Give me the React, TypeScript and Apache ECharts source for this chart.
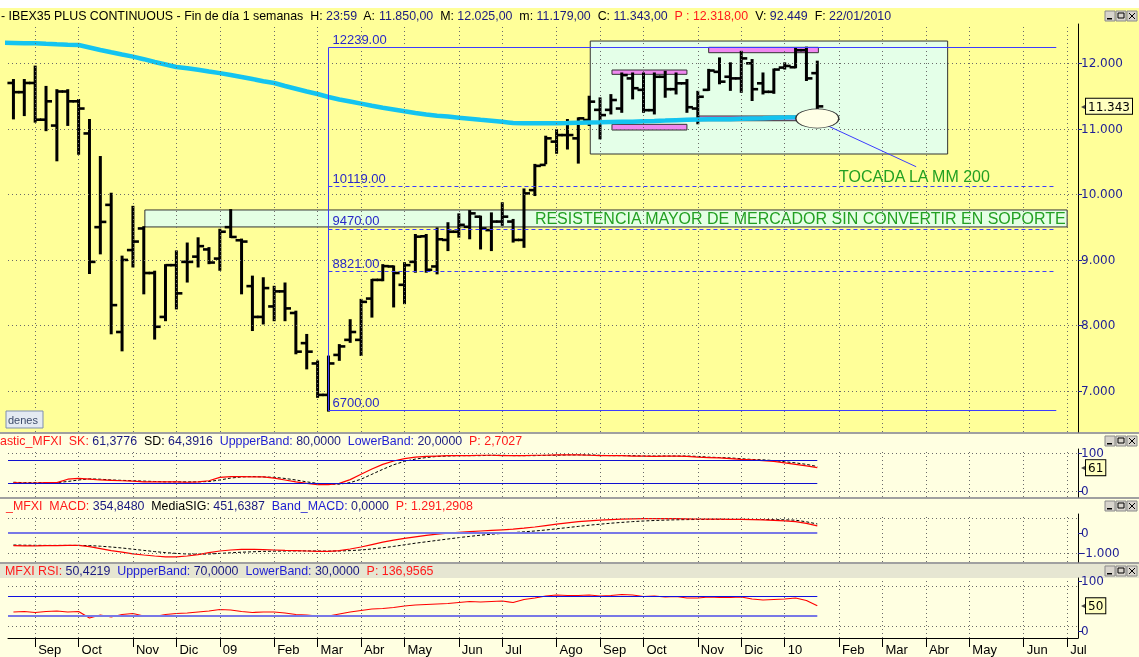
import React, { useEffect, useRef } from "react";
import * as echarts from "echarts";

// ---------------- DATA ----------------
// x axis = weekly bars, index 0 = week of 22/08/2008 ; index 74 = 22/01/2010
const monthTickIndex = [2, 6, 11, 15, 19, 24, 28, 32, 36, 41, 45, 50, 54, 58, 63, 67, 71, 76, 80, 84, 88, 93, 97];
const monthTickLabel = ["Sep", "Oct", "Nov", "Dic", "09", "Feb", "Mar", "Abr", "May", "Jun", "Jul", "Ago", "Sep", "Oct", "Nov", "Dic", "10", "Feb", "Mar", "Abr", "May", "Jun", "Jul"];

// weekly bars [open, high, low, close]
const ohlc: number[][] = [
  [11700, 11745, 11160, 11560], [11560, 11745, 11210, 11700], [11700, 11950, 11110, 11140], [11140, 11640, 10980, 11420],
  [11050, 11590, 10520, 11570], [11570, 11590, 11060, 11420], [11420, 11440, 10620, 11310], [10930, 11135, 8800, 8970],
  [9500, 10570, 9100, 9580], [9840, 10010, 7880, 8310], [7900, 9050, 7620, 9000], [9150, 9810, 8900, 9280],
  [9480, 9500, 8490, 8800], [8800, 8820, 7800, 7980], [8130, 8920, 8080, 8920], [8920, 9130, 8260, 8490],
  [8970, 9250, 8670, 8970], [9050, 9330, 8900, 9210], [9160, 9180, 8950, 8960], [9020, 9460, 8850, 9430],
  [9500, 9760, 9350, 9350], [9300, 9310, 8490, 9280], [8600, 8745, 7930, 8130], [8130, 8720, 8030, 8570],
  [8290, 8590, 8080, 8520], [8520, 8640, 8080, 8260], [8190, 8210, 7575, 7600], [7730, 7855, 7345, 7600],
  [7420, 7450, 6910, 6940], [6940, 7525, 6700, 7420], [7550, 7700, 7475, 7680], [7780, 8080, 7750, 7900],
  [7780, 8390, 7550, 8360], [8410, 8695, 8135, 8695], [8695, 8920, 8690, 8905], [8900, 8900, 8290, 8800],
  [8620, 8950, 8340, 8920], [8970, 9380, 8820, 9355], [9360, 9380, 8820, 8850], [8900, 9480, 8795, 9315],
  [9305, 9560, 9150, 9430], [9430, 9695, 9355, 9535], [9505, 9745, 9330, 9710], [9660, 9660, 9175, 9480],
  [9455, 9710, 9150, 9585], [9585, 9865, 9535, 9660], [9585, 9610, 9280, 9305], [9305, 10075, 9200, 10015],
  [10065, 10450, 9990, 10435], [10450, 10880, 10475, 10855], [10805, 10980, 10635, 10905], [10905, 11135, 10700, 10905],
  [10855, 11160, 10485, 11160], [11135, 11490, 11060, 11415], [11290, 11465, 10855, 11210], [11290, 11515, 11235, 11440],
  [11310, 11845, 11260, 11820], [11770, 11845, 11465, 11620], [11595, 11845, 11260, 11285], [11285, 11845, 11235, 11795],
  [11795, 11870, 11490, 11605], [11605, 11845, 11540, 11695], [11695, 11745, 11260, 11330], [11310, 11565, 11085, 11490],
  [11595, 11900, 11595, 11890], [11870, 12075, 11695, 11720], [11795, 12000, 11595, 11770], [11770, 12175, 11565, 12075],
  [12000, 12050, 11440, 11605], [11695, 11845, 11540, 11565], [11565, 11905, 11550, 11905], [11935, 12000, 11920, 11960],
  [11940, 12225, 11940, 12200], [12200, 12239, 11745, 11770], [11850, 12025, 11179, 11343],
];

// MM 200 (values from week index -1 to 74)
const mm200 = [
  12313, 12311, 12308, 12305, 12297, 12290, 12284, 12279, 12241, 12203, 12168, 12134, 12102, 12063, 12020, 11982,
  11944, 11926, 11902, 11875, 11850, 11821, 11791, 11760, 11727, 11699, 11654, 11612, 11570, 11532, 11486, 11448,
  11417, 11385, 11352, 11321, 11295, 11268, 11242, 11219, 11200, 11188, 11171, 11155, 11138, 11123, 11107, 11089,
  11085, 11085, 11085, 11085, 11089, 11094, 11097, 11100, 11104, 11107, 11110, 11117, 11121, 11126, 11132, 11138,
  11144, 11146, 11146, 11147, 11153, 11159, 11162, 11168, 11173, 11178, 11187, 11196,
];

const stochK = [
  22, 21, 21, 22, 22, 31, 33, 31, 29, 28, 27, 26, 24, 24, 24, 24, 23, 24, 27, 36, 38, 38, 37, 37, 34,
  29, 24, 20, 17, 17, 20, 30, 44, 58, 70, 79, 85, 89, 91, 92, 93, 93, 93, 94, 94, 93, 93, 93, 94, 94,
  95, 95, 95, 94, 93, 93, 93, 92, 92, 91, 92, 92, 91, 89, 88, 87, 85, 83, 82, 80, 78, 74, 70, 66, 61.38,
];
const stochD = [
  23, 22, 22, 22, 22, 25, 29, 32, 31, 29, 28, 27, 26, 25, 24, 24, 24, 24, 25, 29, 34, 37, 38, 37, 36,
  33, 29, 24, 20, 18, 18, 22, 31, 44, 57, 69, 78, 84, 88, 91, 92, 93, 93, 93, 94, 94, 93, 93, 93, 94,
  94, 95, 95, 95, 94, 93, 93, 93, 92, 92, 92, 92, 92, 91, 89, 88, 87, 85, 83, 82, 80, 77, 74, 70, 64.39,
];
const macdLine = [
  -630, -640, -640, -630, -630, -620, -620, -680, -780, -880, -960, -1040, -1100, -1150, -1190,
  -1190, -1150, -1080, -980, -900, -850, -820, -820, -830, -850, -870, -880, -900, -920, -920,
  -880, -800, -700, -580, -460, -360, -270, -190, -120, -60, -10, 30, 70, 100, 130,
  160, 190, 240, 300, 370, 440, 510, 570, 610, 640, 670, 690, 705, 715, 720,
  720, 715, 710, 700, 695, 690, 685, 680, 670, 655, 635, 610, 570, 480, 354.85,
];
const macdSignal = [
  -600, -610, -615, -620, -620, -620, -620, -630, -660, -700, -750, -810, -870, -930, -980,
  -1020, -1050, -1060, -1050, -1020, -990, -960, -940, -920, -910, -900, -895, -895, -900, -905,
  -900, -880, -850, -800, -740, -670, -590, -510, -440, -370, -300, -230, -170, -110, -60,
  -20, 20, 60, 100, 150, 210, 270, 330, 390, 440, 490, 530, 570, 600, 625,
  645, 660, 670, 675, 680, 680, 680, 680, 678, 674, 668, 660, 640, 560, 451.64,
];
const rsiLine = [
  38, 39, 37, 39, 40, 38, 39, 26, 32, 28, 33, 35, 30, 29, 33, 35, 36, 38, 40,
  43, 42, 39, 37, 38, 38, 36, 33, 32, 30, 30, 34, 38, 41, 44, 45, 47, 50, 52, 53, 54, 55, 57,
  59, 58, 59, 60, 57, 63, 66, 70, 72, 71, 71, 72, 70, 71, 73, 72, 69, 70, 68, 69, 66, 66, 68, 67,
  67, 68, 64, 62, 63, 64, 66, 61, 50.42,
];

// analysis annotations (data space)
const priceTicks = [7000, 8000, 9000, 10000, 11000, 12000];
const lastPrice = 11343;
const fibLevels = [12239, 10119, 9470, 8821, 6700];
const fibLabels = ["12239.00", "10119.00", "9470.00", "8821.00", "6700.00"];
const fibDashed = [false, true, true, true, false];
const fibFrom = 29;
const fibTo = 96;
const resistanceZone = [12.1, 9762, 97, 9503];
const resistanceText = "RESISTENCIA MAYOR DE MERCADOR SIN CONVERTIR EN SOPORTE";
const rangeBox = [53.1, 12340, 86, 10616];
const pinkZones = [
  [55.1, 11898, 62, 11832],
  [55.1, 11069, 62, 10982],
  [64, 12244, 74.1, 12162],
  [63.1, 11196, 72.1, 11124],
];
const touchPoint = [74, 11158];
const touchArrow = [[74.35, 11094], [83.1, 10422]];
const touchLabelAt = [76, 10275];
const touchText = "TOCADA LA MM 200";
const lastBar = 74;

// ---------------- HELPERS ----------------
const thousands = (v: number) => {
  const s = Math.abs(Math.round(v)).toString().replace(/\B(?=(\d{3})+(?!\d))/g, ".");
  return (v < 0 ? "-" : "") + s;
};
const SANS = "Liberation Sans, Arial, sans-serif";
const AXISFONT = "DejaVu Sans, Verdana, sans-serif";
const NAVY = "#1E1E96";
const FIBBLUE = "#3C3CFF";
const X_MIN = -0.5;
const X_MAX = 98;
const noEmph = { disabled: true };

function makeX(gridIndex: number, show: boolean) {
  return {
    type: "value", gridIndex, min: X_MIN, max: X_MAX, show: true,
    axisLine: { show, onZero: false, lineStyle: { color: "#000", width: 1 } },
    axisTick: { show, customValues: monthTickIndex, length: 9, lineStyle: { color: "#000" } },
    axisLabel: {
      show, customValues: monthTickIndex, align: "left", margin: 5, padding: [0, 0, 0, 3],
      formatter: (v: number) => { const k = monthTickIndex.indexOf(Math.round(v)); return k >= 0 ? monthTickLabel[k] : ""; },
      color: "#000", fontSize: 13, fontFamily: SANS,
    },
    splitLine: { show: false },
  };
}

function makeY(gridIndex: number, min: number, max: number, ticks: number[], boxValue: number, boxText: string) {
  return {
    type: "value", gridIndex, position: "right", min, max,
    axisLine: { show: true, onZero: false, lineStyle: { color: "#000", width: 1 } },
    axisTick: { show: true, customValues: ticks, length: 4, lineStyle: { color: NAVY } },
    axisLabel: {
      show: true, customValues: [...ticks, boxValue], margin: 3,
      formatter: (v: number) => (Math.abs(v - boxValue) < 1e-6 ? `{a|◂}{b|${boxText}}` : thousands(v)),
      color: NAVY, fontSize: 12, fontFamily: AXISFONT,
      rich: {
        a: { fontSize: 8, color: "#444", padding: [0, 1, 0, 0], fontFamily: AXISFONT },
        b: { color: "#000", fontSize: 12, fontFamily: AXISFONT, borderColor: "#000", borderWidth: 1, backgroundColor: "#FFFFC0", padding: [2, 2, 1, 2] },
      },
    },
    splitLine: { show: false },
  };
}

// dotted grid: vertical lines at month ticks, horizontal lines at given values (drawn through the axes' scales)
function gridLines(idx: number, hValues: number[], yMin: number, yMax: number) {
  const style = { color: "#6A6A6A", width: 1, type: [1, 3] as any };
  return {
    type: "line", xAxisIndex: idx, yAxisIndex: idx, z: 2, silent: true,
    data: [[X_MIN, yMin]], showSymbol: false, symbol: "none", lineStyle: { width: 0, opacity: 0 },
    markLine: {
      silent: true, symbol: ["none", "none"], label: { show: false }, emphasis: noEmph, precision: 4,
      data: [
        ...monthTickIndex.map((v) => [{ coord: [v, yMin], lineStyle: style }, { coord: [v, yMax] }]),
        ...hValues.map((v) => [{ coord: [X_MIN, v], lineStyle: style }, { coord: [X_MAX, v] }]),
      ],
    },
  };
}

function band(value: number, color: string, width: number) {
  return [
    { coord: [X_MIN, value], lineStyle: { color, width, type: "solid" } },
    { coord: [lastBar, value] },
  ];
}

function indicatorLines(idx: number, red: number[], black: number[] | null, bands: any[]) {
  const out: any[] = [];
  out.push({
    type: "line", xAxisIndex: idx, yAxisIndex: idx, z: 3, silent: true,
    data: black ? black.map((v, i) => [i, v]) : [],
    showSymbol: false, symbol: "none",
    lineStyle: { color: "#000", width: 1, type: [3, 2] },
    markLine: { silent: true, symbol: ["none", "none"], label: { show: false }, emphasis: noEmph, data: bands },
  });
  out.push({
    type: "line", xAxisIndex: idx, yAxisIndex: idx, z: 4, silent: true,
    data: red.map((v, i) => [i, v]), showSymbol: false, symbol: "none",
    lineStyle: { color: "#FF0000", width: 1.2 },
  });
  return out;
}

function buttons(y: number) {
  const els: any[] = [];
  [1105, 1116, 1127].forEach((x, k) => {
    els.push({ type: "rect", z: 100, shape: { x, y, width: 10, height: 10 }, style: { fill: "#D8D4CC", stroke: "#8A8A8A", lineWidth: 1 } });
    if (k === 0) els.push({ type: "rect", z: 101, shape: { x: x + 2, y: y + 7, width: 5, height: 1.5 }, style: { fill: "#000" } });
    if (k === 1) els.push({ type: "rect", z: 101, shape: { x: x + 2, y: y + 2, width: 6, height: 5 }, style: { fill: "none", stroke: "#000", lineWidth: 1 } });
    if (k === 2) {
      els.push({ type: "line", z: 101, shape: { x1: x + 2, y1: y + 2, x2: x + 8, y2: y + 8 }, style: { stroke: "#000", lineWidth: 1 } });
      els.push({ type: "line", z: 101, shape: { x1: x + 8, y1: y + 2, x2: x + 2, y2: y + 8 }, style: { stroke: "#000", lineWidth: 1 } });
    }
  });
  return els;
}

function headerText(x: number, y: number, parts: [string, string][], size: number) {
  const rich: any = {
    k: { fill: "#000", fontSize: size, fontFamily: SANS },
    v: { fill: "#1A1A80", fontSize: size, fontFamily: SANS },
    r: { fill: "#FF1A1A", fontSize: size, fontFamily: SANS },
    b: { fill: "#1E1ED2", fontSize: size, fontFamily: SANS },
  };
  const text = parts.map(([s, t]) => `{${s}|${t}}`).join("");
  return { type: "text", z: 100, x, y, style: { text, rich, fontSize: size, fontFamily: SANS, fill: "#000" } };
}

export default function App() {
  const ref = useRef<HTMLDivElement>(null);
  useEffect(() => {
    if (!ref.current) return;
    const chart = echarts.init(ref.current, undefined, { renderer: "svg" });

    const graphicEls: any[] = [
      { type: "rect", z: -10, shape: { x: 0, y: 0, width: 1139, height: 657 }, style: { fill: "#FFFFFF" } },
      { type: "rect", z: -9, shape: { x: 0, y: 8, width: 1139, height: 425 }, style: { fill: "#FFFF99" } },
      { type: "rect", z: -9, shape: { x: 0, y: 434, width: 1139, height: 64 }, style: { fill: "#FFFFE1" } },
      { type: "rect", z: -9, shape: { x: 0, y: 499, width: 1139, height: 64 }, style: { fill: "#FFFFE1" } },
      { type: "rect", z: -9, shape: { x: 0, y: 564, width: 1139, height: 14 }, style: { fill: "#E6E6D2" } },
      { type: "rect", z: -9, shape: { x: 0, y: 578, width: 1139, height: 79 }, style: { fill: "#FFFFE1" } },
      { type: "rect", z: -8, shape: { x: 0, y: 432, width: 1139, height: 2 }, style: { fill: "#A0A0A0" } },
      { type: "rect", z: -8, shape: { x: 0, y: 497, width: 1139, height: 2 }, style: { fill: "#A0A0A0" } },
      { type: "rect", z: -8, shape: { x: 0, y: 562, width: 1139, height: 2 }, style: { fill: "#A0A0A0" } },
      headerText(1, 10, [
        ["k", "- IBEX35 PLUS CONTINUOUS - Fin de día 1 semanas  H: "], ["v", "23:59"],
        ["k", "  A: "], ["v", "11.850,00"], ["k", "  M: "], ["v", "12.025,00"], ["k", "  m: "], ["v", "11.179,00"],
        ["k", "  C: "], ["v", "11.343,00"], ["r", "  P : 12.318,00"], ["k", "  V: "], ["v", "92.449"],
        ["k", "  F: "], ["v", "22/01/2010"],
      ], 12.4),
      headerText(0, 435, [
        ["r", "astic_MFXI  SK: "], ["v", "61,3776"], ["k", "  SD: "], ["v", "64,3916"],
        ["b", "  UppperBand: "], ["v", "80,0000"], ["b", "  LowerBand: "], ["v", "20,0000"], ["r", "  P: 2,7027"],
      ], 12.4),
      headerText(6, 500, [
        ["r", "_MFXI  MACD: "], ["v", "354,8480"], ["k", "  MediaSIG: "], ["v", "451,6387"],
        ["b", "  Band_MACD: "], ["v", "0,0000"], ["r", "  P: 1.291,2908"],
      ], 12.4),
      headerText(5, 565, [
        ["r", "MFXI RSI: "], ["v", "50,4219"], ["b", "  UppperBand: "], ["v", "70,0000"],
        ["b", "  LowerBand: "], ["v", "30,0000"], ["r", "  P: 136,9565"],
      ], 12.4),
      ...buttons(11), ...buttons(436), ...buttons(501), ...buttons(566),
      { type: "rect", z: 100, shape: { x: 6, y: 411, width: 37, height: 17 }, style: { fill: "#E4EAF2", stroke: "#7F8FAF", lineWidth: 1 } },
      { type: "text", z: 101, x: 8, y: 414, style: { text: "denes", fontSize: 11, fontFamily: SANS, fill: "#3C4A6A" } },
    ];

    const zoneItem = (z: number[], fill: string, label?: any) => [
      { coord: [z[0], z[1]], itemStyle: { color: fill, borderColor: "#333", borderWidth: 1 }, label: label || { show: false } },
      { coord: [z[2], z[3]] },
    ];

    const fibLines: any[] = fibLevels.map((v, k) => [
      {
        coord: [fibFrom, v],
        lineStyle: { color: FIBBLUE, width: 1, type: fibDashed[k] ? [4, 3] : "solid" },
        label: { show: true, position: "insideStartTop", formatter: fibLabels[k], color: "#2828C8", fontSize: 13, fontFamily: SANS, distance: [4, 2] },
      },
      { coord: [fibTo, v], lineStyle: { color: FIBBLUE } },
    ]);
    fibLines.push([
      { coord: [fibFrom, fibLevels[fibLevels.length - 1]], lineStyle: { color: FIBBLUE, width: 1, type: "solid" }, label: { show: false } },
      { coord: [fibFrom, fibLevels[0]], lineStyle: { color: FIBBLUE } },
    ]);
    fibLines.push([
      { coord: touchArrow[0], lineStyle: { color: FIBBLUE, width: 1, type: "solid" }, label: { show: false } },
      { coord: touchArrow[1], lineStyle: { color: FIBBLUE } },
    ]);

    const yMain = [6374, 12600];
    const yStoch = [-15.8, 110.5];
    const yMacd = [-1450, 950];
    const yRsi = [-14, 106];

    const option: any = {
      animation: false,
      textStyle: { fontFamily: SANS },
      graphic: { elements: graphicEls },
      grid: [
        { left: 8, top: 24, width: 1070, height: 408 },
        { left: 8, top: 449, width: 1070, height: 48 },
        { left: 8, top: 514, width: 1070, height: 48 },
        { left: 8, top: 578, width: 1070, height: 60 },
      ],
      xAxis: [makeX(0, false), makeX(1, false), makeX(2, false), makeX(3, true)],
      yAxis: [
        makeY(0, yMain[0], yMain[1], priceTicks, lastPrice, thousands(lastPrice)),
        makeY(1, yStoch[0], yStoch[1], [0, 100], stochK[stochK.length - 1], "61"),
        makeY(2, yMacd[0], yMacd[1], [-1000, 0], macdLine[macdLine.length - 1], "355"),
        makeY(3, yRsi[0], yRsi[1], [0, 100], rsiLine[rsiLine.length - 1], "50"),
      ],
      series: [
        // zones
        {
          type: "line", xAxisIndex: 0, yAxisIndex: 0, data: [], z: 1, silent: true,
          markArea: {
            silent: true, emphasis: noEmph,
            data: [
              zoneItem(resistanceZone, "#E4FFE4", {
                show: true, position: "insideRight", distance: 2, formatter: resistanceText,
                color: "#22A022", fontSize: 16, fontFamily: SANS,
              }),
              zoneItem(rangeBox, "#E4FFE8"),
              ...pinkZones.map((p) => zoneItem(p, "#F088F0")),
            ],
          },
        },
        gridLines(0, priceTicks, yMain[0], yMain[1]),
        // ellipse
        {
          type: "line", xAxisIndex: 0, yAxisIndex: 0, data: [], z: 2, silent: true,
          markPoint: {
            silent: true, emphasis: noEmph,
            data: [{ coord: touchPoint, symbol: "circle", symbolSize: [43, 19], itemStyle: { color: "#FFFFE6", borderColor: "#333", borderWidth: 1 }, label: { show: false } }],
          },
        },
        // price bars
        {
          type: "custom", xAxisIndex: 0, yAxisIndex: 0, z: 3, silent: true,
          data: ohlc.map((d, i) => [i, d[0], d[1], d[2], d[3]]),
          encode: { x: 0, y: [1, 2, 3, 4] },
          renderItem: (params: any, api: any) => {
            const i = api.value(0);
            const o = api.coord([i, api.value(1)]);
            const h = api.coord([i, api.value(2)]);
            const l = api.coord([i, api.value(3)]);
            const c = api.coord([i, api.value(4)]);
            const x = h[0];
            return {
              type: "group",
              children: [
                { type: "line", shape: { x1: x, y1: h[1] - 1, x2: x, y2: l[1] + 1 }, style: { stroke: "#000", lineWidth: 3 } },
                { type: "line", shape: { x1: x - 6, y1: o[1], x2: x, y2: o[1] }, style: { stroke: "#000", lineWidth: 2.6 } },
                { type: "line", shape: { x1: x, y1: c[1], x2: x + 6, y2: c[1] }, style: { stroke: "#000", lineWidth: 2.6 } },
              ],
            };
          },
        },
        // MM200
        {
          type: "line", xAxisIndex: 0, yAxisIndex: 0, z: 4, silent: true,
          data: mm200.map((v, k) => [k - 1, v]), showSymbol: false, symbol: "none",
          lineStyle: { color: "#14C4F0", width: 4.5 },
        },
        // annotations
        {
          type: "line", xAxisIndex: 0, yAxisIndex: 0, data: [], z: 5, silent: true, color: FIBBLUE,
          markLine: { silent: true, symbol: ["none", "none"], emphasis: noEmph, lineStyle: { color: FIBBLUE }, data: fibLines },
          markPoint: {
            silent: true, emphasis: noEmph,
            data: [{
              coord: touchLabelAt, symbol: "circle", symbolSize: 0,
              label: { show: true, position: "right", distance: 0, formatter: touchText, color: "#22A022", fontSize: 16, fontFamily: SANS },
            }],
          },
        },
        // stochastic
        gridLines(1, [0, 100], yStoch[0], yStoch[1]),
        ...indicatorLines(1, stochK, stochD, [band(80, "#1010D0", 1.2), band(20, "#1010D0", 1.2)]),
        // MACD
        gridLines(2, [750, -1000], yMacd[0], yMacd[1]),
        ...indicatorLines(2, macdLine, macdSignal, [band(0, "#7878E6", 2)]),
        // RSI
        gridLines(3, [90, 10], yRsi[0], yRsi[1]),
        ...indicatorLines(3, rsiLine, null, [band(70, "#1010E0", 1.2), band(30, "#7878E6", 2)]),
      ],
    };
    chart.setOption(option);
    return () => chart.dispose();
  }, []);

  return <div ref={ref} style={{ position: "fixed", left: 0, top: 0, width: 1139, height: 657 }} />;
}
